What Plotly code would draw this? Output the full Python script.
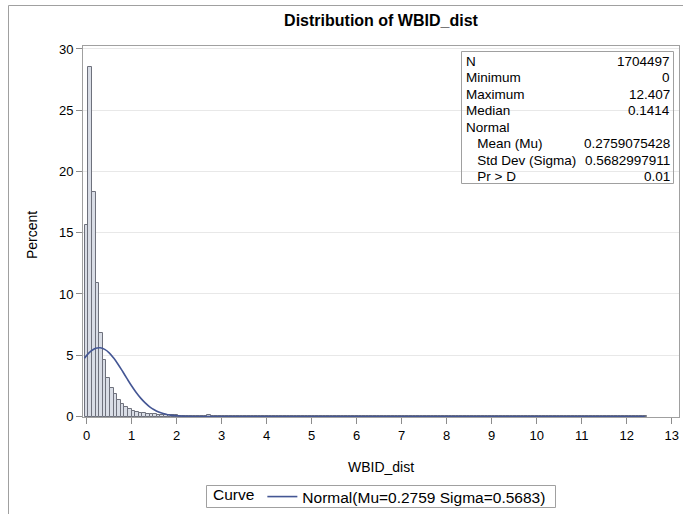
import numpy as np
import plotly.graph_objects as go

# ---------------- data ----------------
bin_width = 0.08
bin_first_mid = 0.0
pct_head = [15.6, 28.5, 18.35, 10.9, 6.85, 4.65, 3.15, 2.3, 1.8, 1.35,
            1.0, 0.78, 0.6, 0.46, 0.37, 0.31, 0.27, 0.24, 0.21, 0.18,
            0.16, 0.14, 0.12, 0.11, 0.10, 0.09, 0.08, 0.07, 0.06, 0.055,
            0.05, 0.045, 0.04, 0.04, 0.15, 0.035, 0.03, 0.03, 0.028]
pct_tail = [0.026, 0.025, 0.024, 0.023, 0.022, 0.021, 0.020, 0.020, 0.019, 0.018, 0.018, 0.017, 0.016,
            0.016, 0.015, 0.015, 0.014, 0.014, 0.013, 0.013, 0.012, 0.012, 0.012, 0.011, 0.011, 0.011,
            0.010, 0.010, 0.010, 0.009, 0.009, 0.009, 0.009, 0.008, 0.008, 0.008, 0.008, 0.007, 0.007,
            0.007, 0.007, 0.007, 0.006, 0.006, 0.006, 0.006, 0.006, 0.006, 0.005, 0.005, 0.005, 0.005,
            0.005, 0.005, 0.005, 0.005, 0.004, 0.004, 0.004, 0.004, 0.004, 0.004, 0.004, 0.004, 0.004,
            0.004, 0.003, 0.003, 0.003, 0.003, 0.003, 0.003, 0.003, 0.003, 0.003, 0.003, 0.003, 0.003,
            0.003, 0.003, 0.003, 0.002, 0.002, 0.002, 0.002, 0.002, 0.002, 0.002, 0.002, 0.002, 0.002,
            0.002, 0.002, 0.002, 0.002, 0.002, 0.002, 0.002, 0.002, 0.002, 0.002, 0.002, 0.002, 0.002,
            0.002, 0.002, 0.002, 0.002, 0.002, 0.002, 0.002, 0.002, 0.002, 0.002, 0.002, 0.002, 0.002]

curve_x = [-0.05, 0.0, 0.1, 0.2, 0.3, 0.4, 0.5, 0.6, 0.7, 0.8, 0.9, 1.0, 1.1, 1.2,
           1.3, 1.4, 1.5, 1.6, 1.7, 1.8, 1.9, 2.0, 2.2, 2.4, 2.6, 3.0, 12.4]
curve_y = [4.76, 4.99, 5.35, 5.57, 5.61, 5.48, 5.20, 4.77, 4.25, 3.67, 3.07, 2.49, 1.96, 1.50,
           1.11, 0.79, 0.55, 0.37, 0.24, 0.15, 0.095, 0.056, 0.018, 0.005, 0.001, 0.0, 0.0]
curve_name = "Normal(Mu=0.2759 Sigma=0.5683)"

x_ticks = list(range(0, 14))
y_ticks = [0, 5, 10, 15, 20, 25, 30]

stat_labels = ["N", "Minimum", "Maximum", "Median", "Normal",
               "Mean (Mu)", "Std Dev (Sigma)", "Pr > D"]
stat_values = ["1704497", "0", "12.407", "0.1414", "",
               "0.2759075428", "0.5682997911", "0.01"]
stat_indent = [False, False, False, False, False, True, True, True]

title_text = "Distribution of WBID_dist"
x_title = "WBID_dist"
y_title = "Percent"
legend_title = "Curve"

# ---------------- figure ----------------
pct = pct_head + pct_tail
mids = bin_first_mid + bin_width * np.arange(len(pct))

W, H = 683, 514
ML, MR, MT, MB = 83, 4, 46, 97
PW, PH = W - ML - MR, H - MT - MB

def px(xpix):
    return (xpix - ML) / PW

def py(ypix):
    return (H - MB - ypix) / PH

FONT = "Liberation Sans"

fig = go.Figure()
fig.add_trace(go.Bar(
    x=mids, y=pct, width=bin_width,
    marker=dict(color="#d9dde6", line=dict(color="#6e717c", width=1)),
    showlegend=False, hoverinfo="skip"))
fig.add_trace(go.Scatter(
    x=curve_x, y=curve_y, mode="lines", name=curve_name,
    line=dict(color="#445694", width=1.6, shape="spline"),
    hoverinfo="skip"))

fig.update_layout(
    width=W, height=H,
    margin=dict(l=ML, r=MR, t=MT, b=MB, autoexpand=False),
    paper_bgcolor="white", plot_bgcolor="white",
    bargap=0,
    title=dict(text="<b>" + title_text + "</b>", x=px(381), xref="paper", xanchor="center",
               y=1 - 20 / H, yref="container", yanchor="middle",
               font=dict(family=FONT, size=16, color="black")),
    showlegend=True,
    legend=dict(orientation="h", x=px(381), xanchor="center", y=py(480), yanchor="top",
                borderwidth=0, bgcolor="rgba(0,0,0,0)",
                font=dict(family=FONT, size=15.5, color="black"),
                tracegroupgap=0, itemwidth=30,
                title=dict(text=legend_title, side="left",
                           font=dict(family=FONT, size=15.5, color="black"))),
    hovermode=False,
)
fig.update_xaxes(range=[-0.082, 13.162], tickvals=x_ticks, ticks="outside", ticklen=6,
                 tickcolor="#8c8c8c", showline=True, mirror=True, linecolor="#a0a0a0",
                 showgrid=False, zeroline=False,
                 tickfont=dict(family=FONT, size=13, color="black"))
fig.update_yaxes(range=[-0.04, 30.24], tickvals=y_ticks, ticks="outside", ticklen=6,
                 tickcolor="#8c8c8c", showline=True, mirror=True, linecolor="#a0a0a0",
                 showgrid=True, gridcolor="#e8e8e8", zeroline=False,
                 tickfont=dict(family=FONT, size=13, color="black"))

# axis titles
fig.add_annotation(text=x_title, xref="paper", yref="paper", x=px(381), y=py(467),
                   xanchor="center", yanchor="middle", showarrow=False,
                   font=dict(family=FONT, size=14, color="black"))
fig.add_annotation(text=y_title, xref="paper", yref="paper", x=px(32), y=py(235),
                   xanchor="center", yanchor="middle", showarrow=False, textangle=-90,
                   font=dict(family=FONT, size=14, color="black"))

# legend frame
fig.add_shape(type="rect", xref="paper", yref="paper",
              x0=px(206.5), x1=px(555.5), y0=py(485.5), y1=py(507.5),
              line=dict(color="#a0a0a0", width=1))

# inset statistics table
fig.add_shape(type="rect", xref="paper", yref="paper",
              x0=px(461.5), x1=px(673.5), y0=py(51.5), y1=py(183.5),
              line=dict(color="#a0a0a0", width=1))
row0, dy = 61.5, 16.45
for i, (lab, val, ind) in enumerate(zip(stat_labels, stat_values, stat_indent)):
    yy = py(row0 + i * dy)
    fig.add_annotation(text=("&nbsp;&nbsp;&nbsp;" if ind else "") + lab, xref="paper", yref="paper",
                       x=px(464), y=yy, xanchor="left", yanchor="middle", showarrow=False,
                       font=dict(family=FONT, size=13.5, color="black"))
    if val:
        fig.add_annotation(text=val, xref="paper", yref="paper",
                           x=px(672), y=yy, xanchor="right", yanchor="middle", showarrow=False,
                           font=dict(family=FONT, size=13.5, color="black"))

# outer frame
fig.add_shape(type="rect", xref="paper", yref="paper",
              x0=px(8.5), x1=px(700), y0=py(5.5), y1=py(530),
              line=dict(color="#a0a0a0", width=1))

fig.write_html("out.html", config={"displayModeBar": False},
               post_script="document.body.style.margin='0';document.body.style.overflow='hidden';")
